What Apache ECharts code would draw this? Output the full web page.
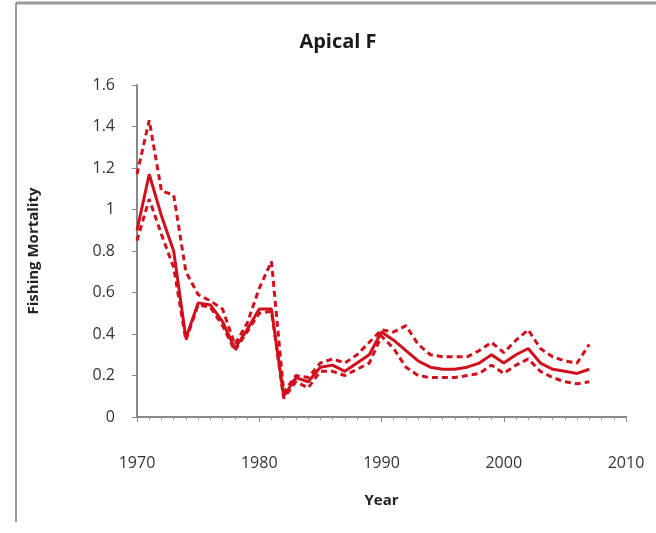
<!DOCTYPE html>
<html><head><meta charset="utf-8">
<script src="https://cdn.jsdelivr.net/npm/echarts@6/dist/echarts.min.js"></script>
<style>html,body{margin:0;padding:0;background:#fff}#c{width:656px;height:533px}</style>
</head><body><div id="c"></div>
<script>
var years = [1970,1971,1972,1973,1974,1975,1976,1977,1978,1979,1980,1981,1982,1983,1984,1985,1986,1987,1988,1989,1990,1991,1992,1993,1994,1995,1996,1997,1998,1999,2000,2001,2002,2003,2004,2005,2006,2007];
var central = [0.90,1.17,0.97,0.80,0.38,0.55,0.54,0.46,0.33,0.42,0.52,0.52,0.10,0.19,0.17,0.24,0.25,0.22,0.26,0.30,0.41,0.37,0.32,0.27,0.24,0.23,0.23,0.24,0.26,0.30,0.26,0.30,0.33,0.26,0.23,0.22,0.21,0.23];
var upper = [1.17,1.43,1.09,1.07,0.70,0.59,0.56,0.52,0.35,0.45,0.62,0.75,0.12,0.20,0.19,0.26,0.28,0.26,0.30,0.36,0.42,0.41,0.44,0.35,0.30,0.29,0.29,0.29,0.32,0.36,0.31,0.37,0.42,0.33,0.29,0.27,0.26,0.35];
var lower = [0.85,1.05,0.88,0.72,0.37,0.54,0.53,0.44,0.32,0.41,0.50,0.51,0.09,0.17,0.14,0.22,0.22,0.20,0.23,0.26,0.39,0.33,0.24,0.20,0.19,0.19,0.19,0.20,0.21,0.25,0.21,0.25,0.28,0.22,0.19,0.17,0.16,0.17];
var title = "Apical F";
var xName = "Year";
var yName = "Fishing Mortality";

function pairs(v){ return years.map(function(y,i){ return [y, v[i]]; }); }
var red = '#d0101c';
var font = 'Open Sans';
var chart = echarts.init(document.getElementById('c'));
chart.setOption({
  animation:false,
  backgroundColor:'#fff',
  textStyle:{fontFamily:font},
  title:{text:title,left:333,top:27,textAlign:'center',textStyle:{fontFamily:font,fontSize:20,fontWeight:'bold',color:'#1a1a1a'}},
  grid:{left:137,right:30,top:85,bottom:116},
  xAxis:{type:'value',min:1970,max:2010,interval:10,
    name:xName,nameLocation:'middle',nameGap:76,
    nameTextStyle:{fontFamily:font,fontSize:15,fontWeight:'bold',color:'#222'},
    axisLine:{show:true,lineStyle:{color:'#888',width:2}},
    axisTick:{show:true,inside:false,length:5,lineStyle:{color:'#888',width:1}},
    minorTick:{show:true,splitNumber:10,length:3,lineStyle:{color:'#999'}},
    splitLine:{show:false},
    axisLabel:{margin:38,fontFamily:font,fontSize:16,color:'#333',formatter:function(v){return String(v);}}},
  yAxis:{type:'value',min:0,max:1.6,interval:0.2,
    name:yName,nameLocation:'middle',nameGap:96,
    nameTextStyle:{fontFamily:font,fontSize:15,fontWeight:'bold',color:'#222'},
    axisLine:{show:true,lineStyle:{color:'#888',width:2}},
    axisTick:{show:true,length:5,lineStyle:{color:'#888'}},
    splitLine:{show:false},
    axisLabel:{margin:22,fontFamily:font,fontSize:16,color:'#333',
      formatter:function(v){return String(Math.round(v*10)/10);}}},
  series:[
    {type:'line',data:pairs(central),showSymbol:false,lineStyle:{color:red,width:3,type:'solid'},z:3},
    {type:'line',data:pairs(upper),showSymbol:false,lineStyle:{color:red,width:3,type:[6,4]},z:2},
    {type:'line',data:pairs(lower),showSymbol:false,lineStyle:{color:red,width:3,type:[6,4]},z:2}
  ],
  graphic:[
    {type:'line',shape:{x1:16,y1:3,x2:656,y2:3},style:{stroke:'#999',lineWidth:3}},
    {type:'line',shape:{x1:16,y1:3,x2:16,y2:522},style:{stroke:'#999',lineWidth:2}}
  ]
});
</script></body></html>
